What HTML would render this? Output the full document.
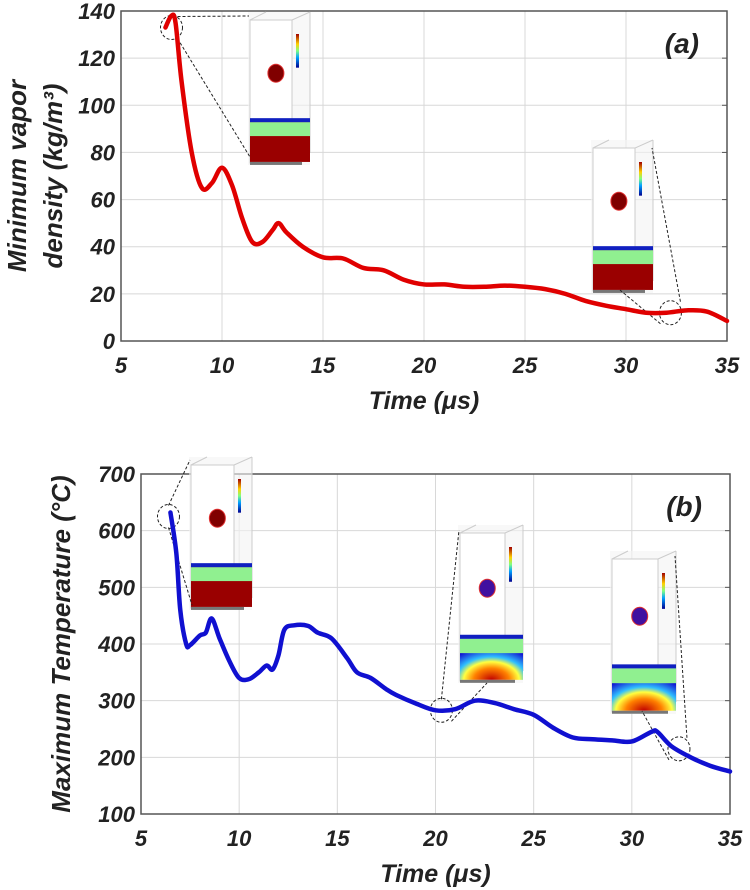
<!DOCTYPE html>
<html><head><meta charset="utf-8"><style>
body{margin:0;background:#fff}
svg{display:block;font-family:"Liberation Sans",sans-serif}
.tk{font-size:20px;font-weight:bold;font-style:italic;fill:#222}
.grid{stroke:#d8d8d8;stroke-width:1}
</style></head><body>
<svg width="750" height="890">
<defs>
<linearGradient id="jet" x1="0" y1="1" x2="0" y2="0"><stop offset="0" stop-color="#00008f"/><stop offset=".3" stop-color="#00a0ff"/><stop offset=".5" stop-color="#80ff80"/><stop offset=".7" stop-color="#ffd000"/><stop offset="1" stop-color="#a00000"/></linearGradient>
<radialGradient id="hot" cx=".5" cy="1" r=".8"><stop offset="0" stop-color="#c00000"/><stop offset=".35" stop-color="#ff8000"/><stop offset=".55" stop-color="#ffff40"/><stop offset=".7" stop-color="#30c0ff"/><stop offset="1" stop-color="#1010d0"/></radialGradient>
</defs>
<g id="chartA"></g>
<g id="chartB"></g>
</svg>
<script>
const tA=[7.2,7.5,7.7,8,8.5,9,9.5,10,10.5,11,11.5,12,12.5,12.8,13.2,14,15,16,17,18,19,20,21,22,23,24,25,26,27,28,29,30,31,32,33,34,35];
const vA=[133,138,135,110,80,65,67,73.5,66,52,42,42,47,50,46,40,35.5,35,31,30,26,24,24,23,23,23.5,23,22,20,17,15,13.5,12,12,13,12.5,8.5];
const ticksXA=[5,10,15,20,25,30,35];
const ticksYA=[0,20,40,60,80,100,120,140];
const tB=[6.5,6.8,7,7.3,7.5,8,8.3,8.6,9,9.5,10,10.5,11,11.4,11.7,12,12.3,12.8,13.5,14,14.7,15.5,16,16.7,17.5,18,19,20,21,22,23,24,25,26,27,28,29,30,31,31.3,32,33,34,35];
const vB=[632,560,460,400,398,415,420,445,410,370,340,338,350,362,355,380,425,433,432,420,410,375,350,340,320,310,295,283,285,300,296,285,275,252,235,232,230,228,245,245,220,200,185,175];
const ticksXB=[5,10,15,20,25,30,35];
const ticksYB=[100,200,300,400,500,600,700];
const NS="http://www.w3.org/2000/svg";
function mk(p,tag,at,name){const e=document.createElementNS(NS,tag);for(const k in at)e.setAttribute(k,at[k]);


p.appendChild(e);return e;}
function smooth(pts){let d="M"+pts[0][0]+","+pts[0][1];for(let i=0;i<pts.length-1;i++){const p0=pts[i-1]||pts[i],p1=pts[i],p2=pts[i+1],p3=pts[i+2]||p2;d+=" C"+(p1[0]+(p2[0]-p0[0])/6)+","+(p1[1]+(p2[1]-p0[1])/6)+" "+(p2[0]-(p3[0]-p1[0])/6)+","+(p2[1]-(p3[1]-p1[1])/6)+" "+p2[0]+","+p2[1];}return d;}
function inset(g,x,y,w,h,type,name){const s=mk(g,'g',{},name);
mk(s,'rect',{x:x,y:y,width:w,height:h,fill:'#f4f4f4',opacity:.6},'inset-bg');
mk(s,'rect',{x:x+2,y:y+8,width:w-20,height:h-10,fill:'#fff',stroke:'#ccc'},'inset-box');
mk(s,'line',{x1:x+2,y1:y+8,x2:x+18,y2:y,stroke:'#ccc'},'inset-edge');
mk(s,'line',{x1:x+w-18,y1:y+8,x2:x+w,y2:y,stroke:'#ccc'},'inset-edge');
mk(s,'line',{x1:x+w,y1:y,x2:x+w,y2:y+h-12,stroke:'#ccc'},'inset-edge');
mk(s,'rect',{x:x+w-14,y:y+22,width:3,height:h*0.22,fill:'url(#jet)'},'inset-colorbar');
const by=y+h*0.72,bh=h*0.26;
if(type==='a'){mk(s,'rect',{x:x+2,y:by,width:w-2,height:bh,fill:'#9a0000'},'inset-liquid');
mk(s,'rect',{x:x+2,y:by,width:w-2,height:bh*0.35,fill:'#90f090'},'inset-layer');
mk(s,'rect',{x:x+2,y:by-4,width:w-2,height:4,fill:'#1020c0'},'inset-top');}
else{mk(s,'rect',{x:x+2,y:by,width:w-2,height:bh,fill:'url(#hot)'},'inset-liquid');
mk(s,'rect',{x:x+2,y:by,width:w-2,height:bh*0.35,fill:'#90f090'},'inset-layer');
mk(s,'rect',{x:x+2,y:by-4,width:w-2,height:4,fill:'#1020c0'},'inset-top');}
const cx=x+w*0.45;
mk(s,'ellipse',{cx:cx,cy:y+h*0.4,rx:8,ry:9,fill:type==='a'?'#800000':'#4010a0',stroke:'#e03030'},'inset-droplet');
mk(s,'rect',{x:x+2,y:by+bh,width:w-10,height:3,fill:'#777'},'inset-plate');
return s;}
function chart(gid,L,R,T,B,x0,x1,y0,y1,tx,ty,xsArr,ysArr,color,ylab,tag,ann){
const g=document.getElementById(gid);
const X=v=>L+(v-x0)/(x1-x0)*(R-L), Y=v=>B-(v-y0)/(y1-y0)*(B-T);
tx.forEach(v=>{mk(g,'line',{x1:X(v),y1:T,x2:X(v),y2:B,class:'grid'},'x-gridline');
const t=mk(g,'text',{x:X(v),y:B+32,'text-anchor':'middle',class:'tk'},'x-tick-label');t.textContent=v;t.style.fontSize='22px';});
ty.forEach(v=>{mk(g,'line',{x1:L,y1:Y(v),x2:R,y2:Y(v),class:'grid'},'y-gridline');
mk(g,'line',{x1:R-5,y1:Y(v),x2:R,y2:Y(v),stroke:'#555'},'y-tick');
const t=mk(g,'text',{x:L-6,y:Y(v)+8,'text-anchor':'end',class:'tk'},'y-tick-label');t.textContent=v;t.style.fontSize='22px';});
mk(g,'rect',{x:L,y:T,width:R-L,height:B-T,fill:'none',stroke:'#555','stroke-width':1.5},'plot-frame');
ann.forEach(a=>{inset(g,a[0],a[1],a[2],a[3],a[4],'inset-simulation');
const cx=X(a[5]),cy=Y(a[6]);
mk(g,'ellipse',{cx:cx,cy:cy,rx:11,ry:12,fill:'none',stroke:'#222','stroke-dasharray':'3,2'},'zoom-circle');
mk(g,'line',{x1:cx+a[7],y1:cy-11,x2:a[8],y2:a[9],stroke:'#222','stroke-dasharray':'3,2'},'zoom-line');
mk(g,'line',{x1:cx+a[10],y1:cy+11,x2:a[11],y2:a[12],stroke:'#222','stroke-dasharray':'3,2'},'zoom-line');});
const pts=xsArr.map((v,i)=>[X(v),Y(ysArr[i])]);
mk(g,'path',{d:smooth(pts),fill:'none',stroke:color,'stroke-width':4.5,'stroke-linejoin':'round','stroke-linecap':'round'},'data-line');
const t=mk(g,'text',{x:(L+R)/2,y:B+68,'text-anchor':'middle',class:'tk'},'x-axis-title');t.textContent='Time (μs)';t.style.fontSize='25px';
const tg=mk(g,'text',{x:R-28,y:T+42,'text-anchor':'end',class:'tk'},'panel-label');tg.textContent=tag;tg.style.fontSize='28px';
ylab(g,L,T,B);}
chart('chartA',121,727,11,341,5,35,0,140,ticksXA,ticksYA,tA,vA,'#e00000',(g,L,T,B)=>{
const t1=mk(g,'text',{transform:'translate(26,'+(T+B)/2+') rotate(-90)','text-anchor':'middle',class:'tk'},'y-axis-title');t1.textContent='Minimum vapor';t1.style.fontSize='26px';
const t2=mk(g,'text',{transform:'translate(62,'+(T+B)/2+') rotate(-90)','text-anchor':'middle',class:'tk'},'y-axis-title-units');t2.textContent='density (kg/m³)';t2.style.fontSize='26px';},'(a)',
[[248,12,62,153,'a',7.5,133,6,249,16,6,250,157],[591,140,62,153,'a',32.2,12,10,652,148,-10,620,290]]);
chart('chartB',141,730,474,814,5,35,100,700,ticksXB,ticksYB,tB,vB,'#1010d0',(g,L,T,B)=>{
const t1=mk(g,'text',{transform:'translate(70,'+(T+B)/2+') rotate(-90)','text-anchor':'middle',class:'tk'},'y-axis-title');t1.textContent='Maximum Temperature (°C)';t1.style.fontSize='26px';},'(b)',
[[189,457,63,153,'a',6.4,625,0,190,460,0,192,605],[458,525,65,158,'b',20.3,283,0,459,530,10,487,683],[610,551,66,163,'b',32.4,215,8,675,556,-10,642,711]]);
</script>
</body></html>
